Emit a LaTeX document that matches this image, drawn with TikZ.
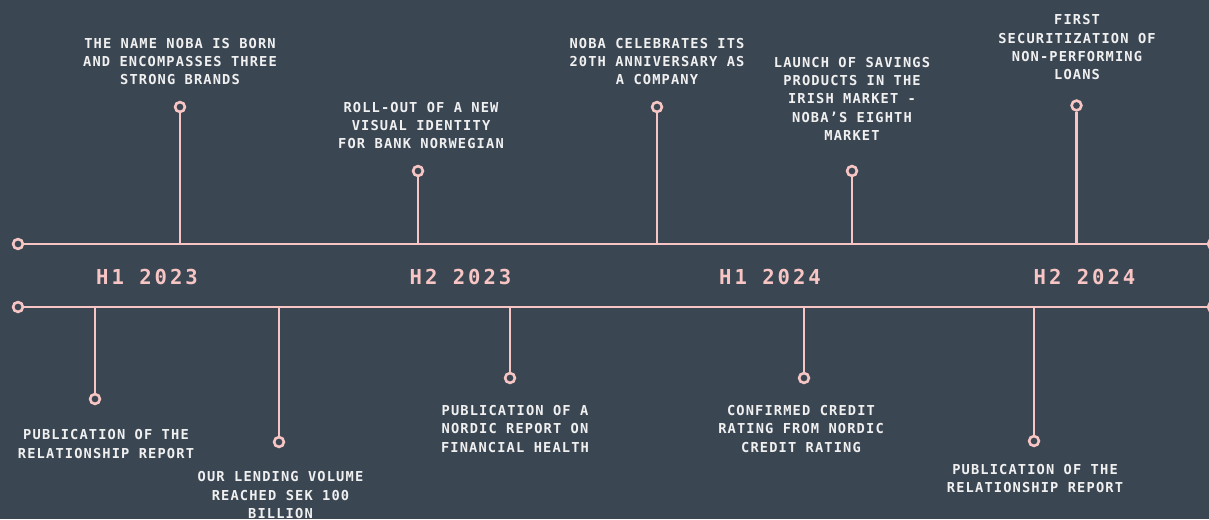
\documentclass[tikz,border=0pt]{standalone}
\usepackage{fontspec}
\newfontfamily\labfont[LetterSpace=8.3]{DejaVu Sans Mono Bold}
\newfontfamily\yrfont[LetterSpace=14.5]{DejaVu Sans Mono Bold}
\definecolor{bg}{HTML}{3B4653}
\definecolor{pinkline}{HTML}{F7C6C4}
\definecolor{txt}{HTML}{F0F0F0}
\begin{document}
\begin{tikzpicture}[x=1pt,y=-1pt,
 line/.style={draw=pinkline, line width=2.8pt},
 dot/.style={circle, draw=pinkline, line width=2.6pt, fill=bg, minimum size=9.8pt, inner sep=0pt},
 ev/.style={align=center, text=txt, font=\labfont\fontsize{13.7}{18.3}\selectfont, inner sep=0pt},
 yr/.style={text=pinkline, font=\yrfont\fontsize{20.6}{24}\selectfont, inner sep=0pt}]
\fill[bg] (0,0) rectangle (1209,519);
\useasboundingbox (0,0) rectangle (1209,519);
\clip (0,0) rectangle (1209,519);

% top events
\foreach \n/\x/\y in {t1/180/107, t2/418/171, t3/657/107, t4/852/171, t5/1076.5/105.5}{
  \coordinate (\n b) at (\x,244);
  \node[dot] (\n) at (\x,\y) {};
  \draw[line] (\n) -- (\n b);
}
% bottom events
\foreach \n/\x/\y in {b1/95/399, b2/279/442, b3/510/378, b4/804/378, b5/1034/441}{
  \coordinate (\n b) at (\x,307);
  \node[dot] (\n) at (\x,\y) {};
  \draw[line] (\n) -- (\n b);
}

% main lines
\node[dot] (L1) at (18,244) {};
\node[dot] (R1) at (1213,244) {};
\node[dot] (L2) at (18,307) {};
\node[dot] (R2) at (1213,307) {};
\draw[line] (L1) -- (R1);
\draw[line] (L2) -- (R2);

% year labels
\node[yr] (y1) at (147,277) {H1 2023};
\node[yr] (y2) at (460.5,277) {H2 2023};
\node[yr] (y3) at (770,277) {H1 2024};
\node[yr] (y4) at (1084.5,277) {H2 2024};

% top texts
\node[ev] (tt1) at (180,61.6) {THE NAME NOBA IS BORN\\AND ENCOMPASSES THREE\\STRONG BRANDS};
\node[ev] (tt2) at (421,125.5) {ROLL-OUT OF A NEW\\VISUAL IDENTITY\\FOR BANK NORWEGIAN};
\node[ev] (tt3) at (657,61.6) {NOBA CELEBRATES ITS\\20TH ANNIVERSARY AS\\A COMPANY};
\node[ev] (tt4) at (852,98.7) {LAUNCH OF SAVINGS\\PRODUCTS IN THE\\IRISH MARKET -\\NOBA’S EIGHTH\\MARKET};
\node[ev] (tt5) at (1077,47.3) {FIRST\\SECURITIZATION OF\\NON-PERFORMING\\LOANS};

% bottom texts
\node[ev] (bt1) at (106,444) {PUBLICATION OF THE\\RELATIONSHIP REPORT};
\node[ev] (bt2) at (280.5,495.2) {OUR LENDING VOLUME\\REACHED SEK 100\\BILLION};
\node[ev] (bt3) at (515,429) {PUBLICATION OF A\\NORDIC REPORT ON\\FINANCIAL HEALTH};
\node[ev] (bt4) at (801,429) {CONFIRMED CREDIT\\RATING FROM NORDIC\\CREDIT RATING};
\node[ev] (bt5) at (1035,478.8) {PUBLICATION OF THE\\RELATIONSHIP REPORT};
\end{tikzpicture}
\end{document}
